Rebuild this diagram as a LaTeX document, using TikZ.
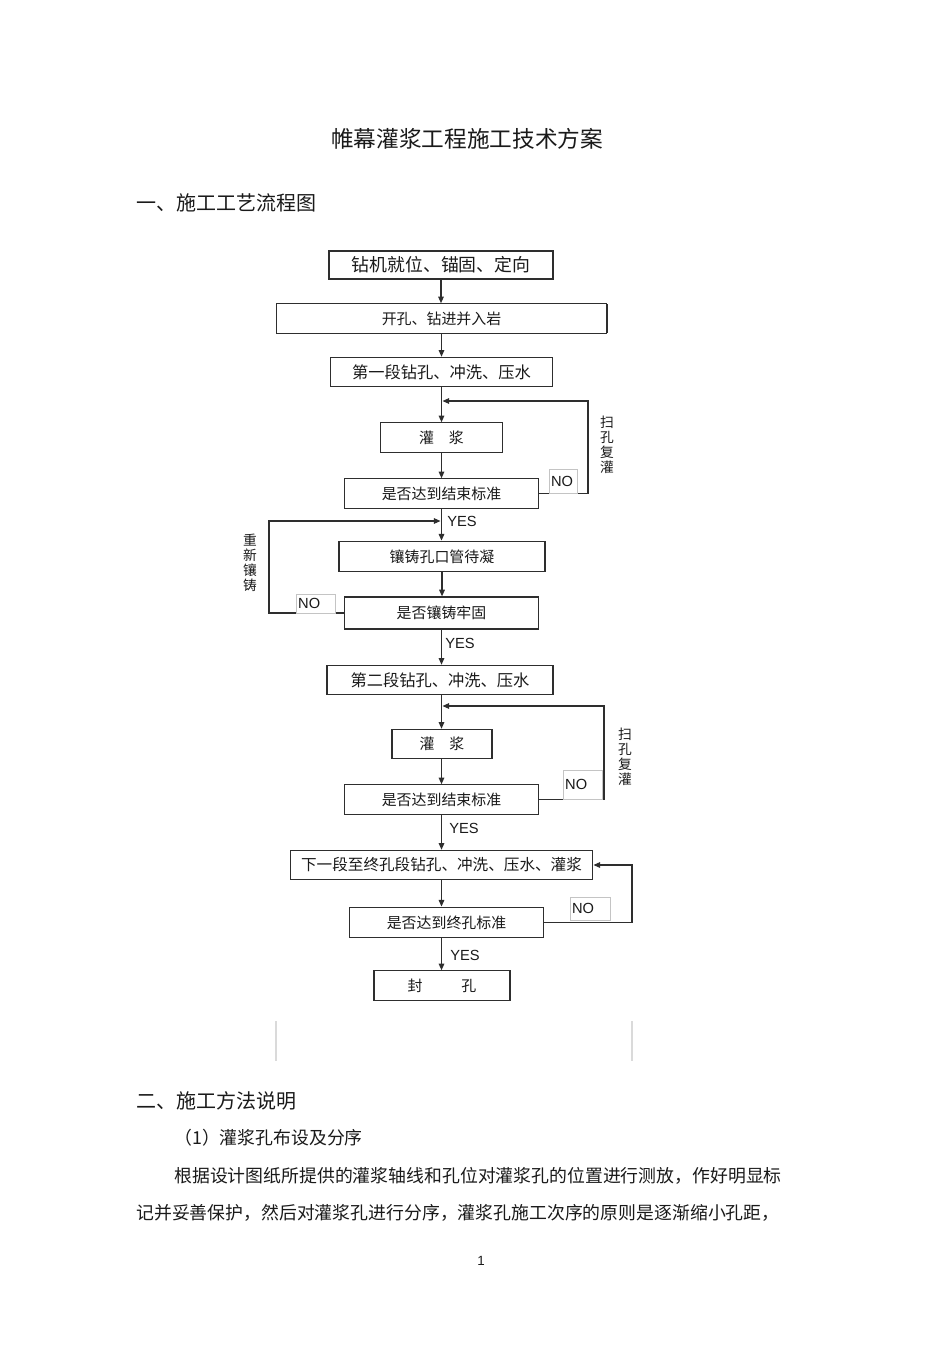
\documentclass[tikz,border=0pt]{standalone}
\usepackage{fontspec}
\setmainfont{Liberation Sans}
\newfontfamily\cjk{Noto Sans CJK SC}
\usepackage{tikz}
\usetikzlibrary{arrows.meta, shadows}
\definecolor{cLine} {HTML}{2E2E2E}
\definecolor{cText} {HTML}{1A1A1A}
\definecolor{cFaint}{HTML}{C4C4C4}
\definecolor{cRule} {HTML}{DADADA}

\begin{document}
\begin{tikzpicture}[x=0.75pt, y=-0.75pt,
    stepbox/.style={draw=cLine, line width=0.9pt, fill=white, inner sep=0pt,
      minimum height=22pt, text=cText, font=\cjk\fontsize{11.2}{13}\selectfont},
    heavy/.style={drop shadow={shadow xshift=0.9pt, shadow yshift=0pt, fill=cLine, opacity=1}},
    flow/.style={draw=cLine, line width=0.9pt, -{Triangle[length=5pt, width=4.2pt]}},
    tag/.style={draw=cFaint, line width=0.5pt, fill=white, inner sep=1.5pt, align=left,
      text=cText, font=\fontsize{11}{13}\selectfont},
    ok/.style={anchor=west, inner sep=0pt, text=cText, font=\fontsize{11}{13}\selectfont},
    side/.style={align=center, inner sep=0pt, text=cText, font=\cjk\fontsize{10.3}{11.3}\selectfont},
    para/.style={anchor=west, inner sep=0pt, text=cText},
  ]
  \fill[white] (0,0) rectangle (950,1345);
  \useasboundingbox (0,0) rectangle (950,1345);

  % page text
  \node[text=cText, font=\cjk\fontsize{17}{20}\selectfont] (title) at (467,139) {帷幕灌浆工程施工技术方案};
  \node[para, font=\cjk\fontsize{15}{18}\selectfont] (sec1) at (136,203) {一、施工工艺流程图};
  \node[para, font=\cjk\fontsize{15}{18}\selectfont] (sec2) at (136,1101) {二、施工方法说明};
  \node[para, font=\cjk\fontsize{13.4}{16}\selectfont] (sub1) at (174,1138) {（1）灌浆孔布设及分序};
  \node[para, font=\cjk\fontsize{13.4}{16}\selectfont] (line1) at (174,1176)
        {根据设计图纸所提供的灌浆轴线和孔位对灌浆孔的位置进行测放，作好明显标};
  \node[para, font=\cjk\fontsize{13.4}{16}\selectfont] (line2) at (136,1213)
        {记并妥善保护，然后对灌浆孔进行分序，灌浆孔施工次序的原则是逐渐缩小孔距，};
  \node[text=cText, font=\fontsize{10}{12}\selectfont] (pageno) at (481,1261) {1};

  % flow boxes
  \node[stepbox, heavy, minimum width=168pt, minimum height=21pt, font=\cjk\fontsize{13.4}{16}\selectfont]
        (drill) at (441,265) {钻机就位、锚固、定向};
  \node[stepbox, heavy, minimum width=248pt] (open) at (441.5,318.5) {开孔、钻进并入岩};
  \node[stepbox, minimum width=167pt, font=\cjk\fontsize{12.2}{14}\selectfont] (seg1) at (441.5,372) {第一段钻孔、冲洗、压水};
  \node[stepbox, heavy, minimum width=91pt] (grout1) at (441.5,437.5) {灌\hspace{1em}浆};
  \node[stepbox, minimum width=145pt] (chk1) at (441.5,493.5) {是否达到结束标准};
  \node[stepbox, minimum width=154.5pt, minimum height=23pt] (cast) at (442,556.5) {镶铸孔口管待凝};
  \node[stepbox, minimum width=145pt, minimum height=24pt] (chk2) at (441.5,613) {是否镶铸牢固};
  \node[stepbox, minimum width=169.5pt, font=\cjk\fontsize{12.2}{14}\selectfont] (seg2) at (440,680) {第二段钻孔、冲洗、压水};
  \node[stepbox, minimum width=75pt] (grout2) at (442,744) {灌\hspace{1em}浆};
  \node[stepbox, minimum width=145pt] (chk3) at (441.5,799.5) {是否达到结束标准};
  \node[stepbox, minimum width=227pt, font=\cjk\fontsize{11.7}{14}\selectfont] (next) at (441.5,865) {下一段至终孔段钻孔、冲洗、压水、灌浆};
  \node[stepbox, minimum width=145pt, minimum height=23pt] (chk4) at (446.5,922.5) {是否达到终孔标准};
  \node[stepbox, minimum width=102pt] (seal) at (442,985.5) {封\hspace{2.6em}孔};

  % main line
  \draw[flow] (drill.south) -- (drill.south |- open.north);
  \draw[flow] (open.south) -- (open.south |- seg1.north);
  \draw[flow] (seg1.south) -- (seg1.south |- grout1.north);
  \draw[flow] (grout1.south) -- (grout1.south |- chk1.north);
  \draw[flow] (chk1.south) -- (chk1.south |- cast.north);
  \draw[flow] (cast.south) -- (cast.south |- chk2.north);
  \draw[flow] (chk2.south) -- (chk2.south |- seg2.north);
  \draw[flow] (chk2.south |- seg2.south) -- (chk2.south |- grout2.north);
  \draw[flow] (chk2.south |- grout2.south) -- (chk2.south |- chk3.north);
  \draw[flow] (chk3.south) -- (chk3.south |- next.north);
  \draw[flow] (next.south) -- (next.south |- chk4.north);
  \draw[flow] (next.south |- chk4.south) -- (next.south |- seal.north);

  % loops back
  \coordinate (r1) at (588,401);
  \coordinate (j1) at (442.5,401);
  \draw[flow] (chk1.east) -| (r1) -- (j1);
  \coordinate (l2) at (269,521);
  \coordinate (j2) at (440.5,521);
  \draw[flow] (chk2.west) -| (l2) -- (j2);
  \coordinate (r3) at (604,706);
  \coordinate (j3) at (442.5,706);
  \draw[flow] (chk3.east) -| (r3) -- (j3);
  \coordinate (r4) at (632,865);
  \draw[flow] (chk4.east) -| (r4) -- (next.east);

  % NO / YES marks
  \node[tag, text width=18pt, minimum height=18pt] (no1) at (563,481) {NO};
  \node[tag, text width=26pt, minimum height=14pt] (no2) at (315.5,603.5) {NO};
  \node[tag, text width=26pt, minimum height=22pt] (no3) at (582.5,784.5) {NO};
  \node[tag, text width=27pt, minimum height=17pt] (no4) at (590,908.5) {NO};
  \node[ok] (yes1) at (447,521) {YES};
  \node[ok] (yes2) at (445,643) {YES};
  \node[ok] (yes3) at (449,828) {YES};
  \node[ok] (yes4) at (450,955) {YES};

  \node[side] (sweep1) at (607,445) {扫\\孔\\复\\灌};
  \node[side] (recast) at (250,563) {重\\新\\镶\\铸};
  \node[side] (sweep2) at (625,757) {扫\\孔\\复\\灌};

  \draw[cRule, line width=0.8pt] (276,1021) -- (276,1061);
  \draw[cRule, line width=0.8pt] (632,1021) -- (632,1061);
\end{tikzpicture}
\end{document}
